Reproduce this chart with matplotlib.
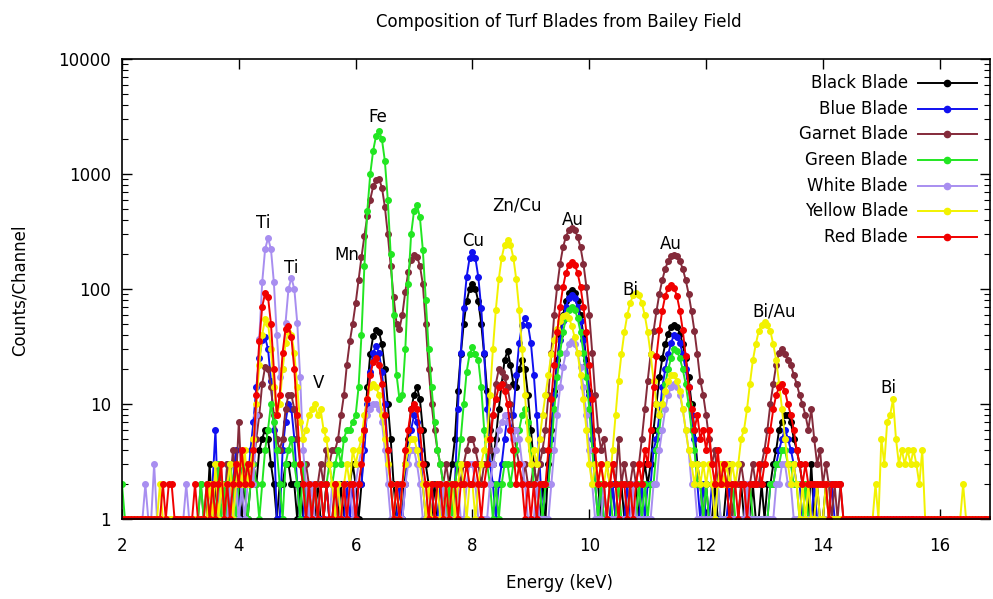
import numpy as np
import matplotlib
matplotlib.use('Agg')
from matplotlib import pyplot as plt
from matplotlib.lines import Line2D

# energy calibration of the channels (keV)
ENERGY_START = 2.0
CHANNEL_KEV = 0.05

# counts per channel, one row per keV (2.00 ... 16.95)
black_blade = [
    1,1,1,1,1,1,1,1,1,1,1,1,1,1,1,1,1,1,1,1,
    1,1,1,1,1,1,1,1,1,1,3,1,2,1,2,1,1,2,1,3,
    2,1,2,1,2,3,2,4,5,6,5,3,2,1,2,2,3,3,2,2,
    1,2,1,1,2,1,1,2,1,1,2,1,1,2,1,2,1,2,2,3,
    2,1,2,6,14,27,39,44,42,33,20,10,5,2,1,2,1,3,5,9,
    12,14,11,6,3,2,1,2,1,1,2,1,2,3,5,13,27,50,78,100,
    110,100,78,50,27,13,6,3,5,9,15,24,29,22,15,14,20,24,20,12,
    6,3,2,1,2,1,3,6,13,24,40,59,78,93,98,93,78,59,40,24,
    13,6,3,2,1,2,1,1,2,1,1,2,1,2,2,2,2,1,2,3,
    2,3,6,10,17,25,33,41,47,49,47,41,33,25,17,10,6,3,2,1,
    2,1,1,2,1,1,1,2,1,1,1,1,2,1,1,1,2,1,1,2,
    1,2,2,3,4,6,7,8,8,7,5,4,3,2,2,1,3,1,2,1,
    1,2,1,1,1,1,1,1,1,1,1,1,1,1,1,1,1,1,1,1,
    1,1,1,1,1,1,1,1,1,1,1,1,1,1,1,1,1,1,1,1,
    1,1,1,1,1,1,1,1,1,1,1,1,1,1,1,1,1,1,1,1,
]
blue_blade = [
    1,1,1,1,1,1,1,1,1,1,1,1,1,1,1,1,1,1,1,1,
    1,1,1,1,1,1,1,1,1,1,1,2,6,1,2,1,3,1,2,4,
    1,2,3,2,4,7,14,25,36,38,30,16,6,1,1,4,7,10,9,5,
    2,1,1,2,1,1,2,1,1,1,2,1,1,1,2,1,1,2,1,2,
    1,2,2,4,10,19,28,32,28,19,10,4,2,1,1,2,1,2,4,6,
    8,7,4,2,1,1,2,1,1,2,1,1,1,2,2,9,28,68,127,185,
    210,185,127,68,28,9,3,2,1,2,3,5,8,6,8,18,34,49,56,49,
    34,18,8,3,1,2,2,5,12,22,36,53,70,84,88,84,70,53,36,22,
    12,5,2,1,2,1,1,1,2,1,1,1,1,2,1,1,1,1,2,1,
    2,2,4,5,8,14,20,27,34,40,38,34,27,20,14,8,5,2,1,2,
    1,1,2,1,1,1,1,1,2,1,1,1,1,1,1,1,1,1,1,1,
    1,1,2,2,3,4,5,6,5,4,3,2,2,1,1,1,1,2,1,1,
    1,1,1,2,1,1,1,1,1,1,1,1,1,1,1,1,1,1,1,1,
    1,1,1,1,1,1,1,1,1,1,1,1,1,1,1,1,1,1,1,1,
    1,1,1,1,1,1,1,1,1,1,1,1,1,1,1,1,1,1,1,1,
]
garnet_blade = [
    1,1,1,1,1,1,1,1,1,1,1,1,1,1,1,1,1,1,1,1,
    1,1,1,1,1,1,1,2,1,1,2,1,2,3,2,1,3,2,4,2,
    7,2,3,2,3,3,5,8,15,21,20,14,8,5,4,5,9,12,12,9,
    5,3,2,3,2,1,2,2,3,2,4,3,4,4,5,8,12,22,35,50,
    75,120,190,290,430,600,780,890,910,760,520,300,160,85,50,45,60,95,140,180,
    198,190,160,110,50,20,10,6,4,3,2,3,2,1,2,3,2,3,4,5,
    5,4,3,2,3,3,4,8,15,20,19,17,14,10,6,4,3,2,3,2,
    2,3,2,3,4,6,12,28,60,105,165,230,286,326,340,326,286,230,165,105,
    60,28,12,6,4,5,3,2,3,2,5,2,3,2,2,3,2,3,5,9,
    16,27,43,64,91,120,150,175,192,198,192,175,150,120,91,64,43,27,16,12,
    8,5,3,4,2,3,2,2,3,1,2,2,3,2,1,2,3,2,2,3,
    4,6,10,15,22,28,30,27,24,22,18,15,12,10,8,6,9,5,3,4,
    2,3,2,1,2,1,2,1,1,1,1,1,1,1,1,1,1,1,1,1,
    1,1,1,1,1,1,1,1,1,1,1,1,1,1,1,1,1,1,1,1,
    1,1,1,1,1,1,1,1,1,1,1,1,1,1,1,1,1,1,1,1,
]
green_blade = [
    2,1,1,1,1,1,1,1,1,1,1,1,1,1,1,1,1,1,1,1,
    1,1,1,1,1,1,1,2,1,2,1,2,1,3,1,2,1,3,2,1,
    2,3,2,1,2,3,2,1,2,4,6,10,7,4,2,1,3,4,5,3,
    2,1,3,1,2,1,2,1,2,1,2,3,2,3,4,3,5,6,6,7,
    8,14,40,160,480,1000,1600,2150,2365,2000,1300,600,200,60,18,11,12,30,110,300,
    480,537,420,220,80,30,14,7,4,3,2,1,2,1,2,3,5,10,19,27,
    31,27,24,14,6,3,2,1,2,1,2,3,3,2,3,4,6,8,9,7,
    4,2,1,2,1,2,2,4,9,17,28,42,56,66,70,66,56,42,28,17,
    9,4,2,1,2,1,1,2,1,1,2,1,1,1,2,1,1,2,1,2,
    1,2,2,4,6,10,15,20,25,30,29,25,20,15,10,6,4,2,2,1,
    2,1,1,1,2,1,1,1,1,2,1,1,1,1,1,2,1,1,1,1,
    1,1,2,2,3,3,4,4,3,3,2,2,1,1,2,1,1,1,1,1,
    1,1,1,1,1,1,1,1,1,1,1,1,1,1,1,1,1,1,1,1,
    1,1,1,1,1,1,1,1,1,1,1,1,1,1,1,1,1,1,1,1,
    1,1,1,1,1,1,1,1,1,1,1,1,1,1,1,1,1,1,1,1,
]
white_blade = [
    1,1,1,1,1,1,1,1,2,1,1,3,1,1,1,1,1,1,1,1,
    1,1,2,1,1,1,1,1,1,1,1,2,1,1,2,1,1,2,1,2,
    1,2,1,2,3,2,8,37,114,222,277,222,114,40,17,20,51,100,125,100,
    51,17,4,2,1,2,1,1,2,1,1,1,2,1,1,1,2,1,2,1,
    2,3,4,6,8,9,10,10,9,7,4,2,1,1,2,1,1,2,3,4,
    4,3,2,1,1,2,1,1,1,1,2,1,1,1,1,2,1,1,2,3,
    3,2,1,1,1,1,2,3,4,6,7,8,7,6,5,6,5,3,2,1,
    1,1,2,1,1,1,1,2,4,8,14,21,28,33,35,33,28,21,14,8,
    4,2,1,1,1,2,1,1,1,1,1,1,1,1,1,2,1,1,1,1,
    1,1,2,2,4,6,9,12,14,15,14,12,9,6,4,2,2,1,1,1,
    1,1,1,1,2,1,1,1,1,1,1,1,1,1,2,1,1,1,1,1,
    1,1,1,1,2,2,3,3,2,2,1,1,1,1,1,1,1,1,1,1,
    1,1,1,1,1,1,1,1,1,1,1,1,1,1,1,1,1,1,1,1,
    1,1,1,1,1,1,1,1,1,1,1,1,1,1,1,1,1,1,1,1,
    1,1,1,1,1,1,1,1,1,1,1,1,1,1,1,1,1,1,1,1,
]
yellow_blade = [
    1,1,1,1,1,1,1,1,1,1,1,1,1,2,1,1,1,1,1,1,
    1,1,1,1,1,1,1,1,1,1,2,1,3,1,2,1,2,3,1,2,
    3,2,4,2,3,5,10,22,40,55,50,30,14,8,10,20,34,42,40,28,
    14,7,5,6,8,9,10,8,9,6,5,3,2,1,2,1,2,3,2,4,
    3,4,5,8,11,14,15,14,12,8,5,3,2,1,2,1,2,3,4,5,
    5,4,3,2,1,2,1,1,2,1,1,2,1,2,1,2,3,2,1,2,
    2,1,2,3,4,5,12,30,66,121,187,243,265,243,187,121,66,30,12,5,
    3,4,3,5,8,12,18,27,36,45,53,58,60,56,48,38,28,18,11,6,
    3,2,3,2,3,2,3,2,4,8,16,27,42,59,76,88,92,88,76,59,
    42,27,16,10,8,10,13,16,18,18,16,13,9,6,4,3,2,3,2,3,
    2,3,2,1,2,3,2,3,2,3,2,3,5,6,9,15,24,33,43,49,
    52,49,43,33,24,15,9,5,3,2,3,2,1,2,1,2,1,1,2,1,
    1,2,1,1,1,1,1,1,1,1,1,1,1,1,1,1,1,1,2,1,
    5,3,7,8,11,5,3,4,3,4,3,4,3,2,4,1,1,1,1,1,
    1,1,1,1,1,1,1,1,2,1,1,1,1,1,1,1,1,1,1,1,
]
red_blade = [
    1,1,1,1,1,1,1,1,1,1,1,1,1,1,2,1,2,2,1,1,
    1,1,1,1,1,2,1,1,1,2,1,2,1,2,3,1,2,1,2,3,
    2,4,2,3,2,4,12,35,70,92,85,50,20,8,12,28,45,48,38,20,
    8,3,2,1,2,1,2,1,2,1,2,1,1,2,1,1,2,1,2,2,
    1,2,3,6,11,18,23,25,22,15,8,4,2,1,2,1,2,4,6,9,
    10,9,6,3,2,1,2,1,2,2,1,2,1,2,2,1,2,2,3,2,
    2,3,2,1,2,3,5,8,11,14,15,13,10,6,4,2,3,2,1,2,
    1,2,1,2,2,2,4,11,22,42,70,104,138,163,172,163,138,104,70,42,
    22,11,4,2,3,2,1,2,3,2,1,2,2,1,2,1,2,3,2,4,
    3,6,14,26,44,65,87,103,108,103,87,65,44,26,14,9,6,8,5,6,
    4,6,3,2,4,2,3,2,1,2,2,1,2,2,1,2,2,2,3,2,
    3,4,6,9,12,14,15,13,10,8,6,4,3,2,3,2,2,2,2,2,
    2,2,1,2,2,2,2,1,1,1,1,1,1,1,1,1,1,1,1,1,
    1,1,1,1,1,1,1,1,1,1,1,1,1,1,1,1,1,1,1,1,
    1,1,1,1,1,1,1,1,1,1,1,1,1,1,1,1,1,1,1,1,
]

series_labels = ['Black Blade', 'Blue Blade', 'Garnet Blade', 'Green Blade',
                 'White Blade', 'Yellow Blade', 'Red Blade']
series_colors = ['#000000', '#1010f0', '#842a3a', '#22e622',
                 '#a88ef0', '#f2f200', '#f00000']
series_counts = [black_blade, blue_blade, garnet_blade, green_blade,
                 white_blade, yellow_blade, red_blade]

# element labels placed above the peaks
peak_names = ['Ti', 'Ti', 'V', 'Mn', 'Fe', 'Cu', 'Zn/Cu', 'Au', 'Bi', 'Au', 'Bi/Au', 'Bi']
peak_kev = [4.41, 4.89, 5.37, 5.85, 6.38, 8.01, 8.76, 9.71, 10.70, 11.40, 13.16, 15.12]
peak_counts = [375, 152, 15.2, 198, 3130, 261, 537, 398, 98, 246, 64, 13.8]

W, H = 993, 599
fig = plt.figure(figsize=(W/100.0, H/100.0), dpi=100)
ax = fig.add_axes([122.0/W, 1-519.0/H, 868.0/W, 460.0/H])

for counts, color in zip(series_counts, series_colors):
    counts = np.array(counts, dtype=float)
    energy = ENERGY_START + CHANNEL_KEV*np.arange(len(counts))
    ax.plot(energy, counts, '-', color=color, lw=1.4, marker='o',
            ms=4, mec=color, mfc=color)

for name, e, c in zip(peak_names, peak_kev, peak_counts):
    ax.text(e, c, name, ha='center', va='center', fontsize=12)

# legend drawn by hand: right aligned text, sample line on the right
for i, (label, color) in enumerate(zip(series_labels, series_colors)):
    y = 0.948 - i*0.0559
    ax.text(0.9055, y, label, ha='right', va='center', fontsize=12,
            transform=ax.transAxes)
    ax.add_line(Line2D([0.917, 0.985], [y, y], color=color, lw=1.4,
                       transform=ax.transAxes))
    ax.add_line(Line2D([0.951], [y], color=color, marker='o', ms=4.5,
                       transform=ax.transAxes))

ax.set_yscale('log')
ax.set_xlim(2, 16.86)
ax.set_ylim(1, 10000)
ax.set_xticks([2, 4, 6, 8, 10, 12, 14, 16])
ax.set_yticks([1, 10, 100, 1000, 10000])
ax.set_yticklabels(['1', '10', '100', '1000', '10000'])
ax.tick_params(which='both', direction='in', top=True, right=True,
               labelsize=12)
ax.tick_params(which='major', length=7, width=1)
ax.tick_params(which='minor', length=4, width=0.8)
ax.tick_params(axis='x', pad=13)
ax.tick_params(axis='y', pad=8)
for sp in ax.spines.values():
    sp.set_linewidth(1.2)

fig.text(559.0/W, 1-22.0/H, 'Composition of Turf Blades from Bailey Field',
         ha='center', va='center', fontsize=12)
fig.text(560.0/W, 1-583.0/H, 'Energy (keV)', ha='center', va='center',
         fontsize=12)
fig.text(20.0/W, 1-290.0/H, 'Counts/Channel', ha='center', va='center',
         rotation=90, fontsize=12)

fig.savefig('out.png', dpi=100)
